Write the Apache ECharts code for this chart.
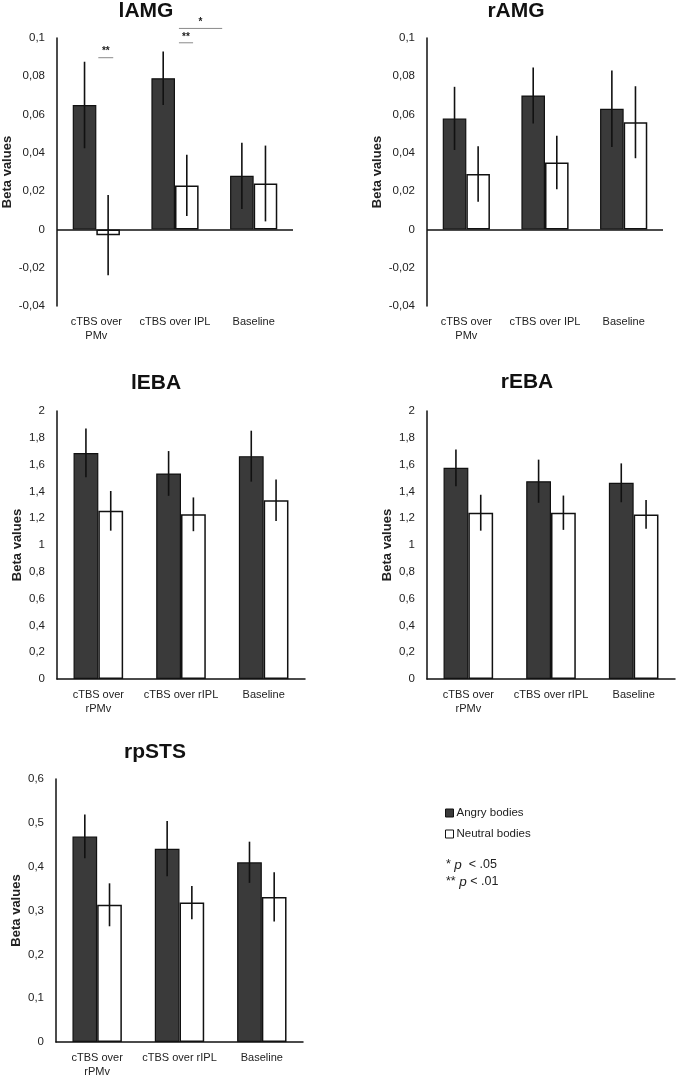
<!DOCTYPE html>
<html>
<head>
<meta charset="utf-8">
<script src="https://cdn.jsdelivr.net/npm/echarts@6/dist/echarts.min.js"></script>
<style>
html,body{margin:0;padding:0;background:#fff;}
#chart{width:677px;height:1079px;}
</style>
</head>
<body>
<div id="chart"></div>
<script>
// ---------- DATA ----------
const categoriesAMG = ['cTBS over\nPMv', 'cTBS over IPL', 'Baseline'];
const categoriesOther = ['cTBS over\nrPMv', 'cTBS over rIPL', 'Baseline'];
const seriesNames = ['Angry bodies', 'Neutral bodies'];
const panelTitles = ['lAMG', 'rAMG', 'lEBA', 'rEBA', 'rpSTS'];

const lAMG_angry = [0.065, 0.079, 0.028];
const lAMG_angry_err = [0.0226, 0.014, 0.0173];
const lAMG_neutral = [-0.003, 0.023, 0.024];
const lAMG_neutral_err = [0.021, 0.016, 0.0198];

const rAMG_angry = [0.058, 0.070, 0.063];
const rAMG_angry_err = [0.0165, 0.0146, 0.020];
const rAMG_neutral = [0.029, 0.035, 0.056];
const rAMG_neutral_err = [0.0145, 0.014, 0.0188];

const lEBA_angry = [1.687, 1.534, 1.663];
const lEBA_angry_err = [0.182, 0.167, 0.19];
const lEBA_neutral = [1.255, 1.229, 1.334];
const lEBA_neutral_err = [0.148, 0.126, 0.155];

const rEBA_angry = [1.576, 1.476, 1.464];
const rEBA_angry_err = [0.137, 0.161, 0.145];
const rEBA_neutral = [1.241, 1.241, 1.228];
const rEBA_neutral_err = [0.134, 0.128, 0.107];

const rpSTS_angry = [0.469, 0.441, 0.41];
const rpSTS_angry_err = [0.05, 0.063, 0.047];
const rpSTS_neutral = [0.313, 0.318, 0.331];
const rpSTS_neutral_err = [0.049, 0.038, 0.056];

// y-axis ranges: [min, max, step]
const yAMG = [-0.04, 0.1, 0.02];
const yEBA = [0, 2, 0.2];
const ySTS = [0, 0.6, 0.1];

// significance brackets in lAMG: [category, yValue, startFrac, endFrac]
const sigBrackets = [[0, 0.0897, 0.025, 0.215], [1, 0.0975, 0.05, 0.23], [1, 0.105, 0.05, 0.6]];
const sigLabels = ['**', '**', '*'];

// ---------- LAYOUT ----------
const panels = [
  {title: panelTitles[0], cats: categoriesAMG, a: lAMG_angry, ae: lAMG_angry_err, n: lAMG_neutral, ne: lAMG_neutral_err, y: yAMG,
   grid: {left: 57, top: 38, width: 236, height: 268}, titlePos: [146, 11], nameGap: 43, zeroLine: true},
  {title: panelTitles[1], cats: categoriesAMG, a: rAMG_angry, ae: rAMG_angry_err, n: rAMG_neutral, ne: rAMG_neutral_err, y: yAMG,
   grid: {left: 427, top: 38, width: 236, height: 268}, titlePos: [516, 11], nameGap: 43, zeroLine: true},
  {title: panelTitles[2], cats: categoriesOther, a: lEBA_angry, ae: lEBA_angry_err, n: lEBA_neutral, ne: lEBA_neutral_err, y: yEBA,
   grid: {left: 57, top: 411, width: 248, height: 268}, titlePos: [156, 383], nameGap: 33, zeroLine: false},
  {title: panelTitles[3], cats: categoriesOther, a: rEBA_angry, ae: rEBA_angry_err, n: rEBA_neutral, ne: rEBA_neutral_err, y: yEBA,
   grid: {left: 427, top: 411, width: 248, height: 268}, titlePos: [527, 382], nameGap: 33, zeroLine: false},
  {title: panelTitles[4], cats: categoriesOther, a: rpSTS_angry, ae: rpSTS_angry_err, n: rpSTS_neutral, ne: rpSTS_neutral_err, y: ySTS,
   grid: {left: 56, top: 779, width: 247, height: 268}, titlePos: [155, 752], nameGap: 33, zeroLine: false}
];

const BAR_FRAC = 0.30;
const tickFont = '"Liberation Sans Narrow", "Arial Narrow", "Liberation Sans", Arial, sans-serif';
const catFont = '"Liberation Sans", Arial, sans-serif';
const boldFont = '"Liberation Sans", Arial, sans-serif';

function errRender(params, api) {
  const cat = api.value(0), lo = api.value(1), hi = api.value(2), side = api.value(3);
  const band = api.size([1, 0])[0];
  const cx = api.coord([cat, 0])[0] + side * BAR_FRAC / 2 * band;
  const p1 = api.coord([cat, lo]);
  const p2 = api.coord([cat, hi]);
  return {type: 'line', shape: {x1: cx, y1: p1[1], x2: cx, y2: p2[1]},
          style: {stroke: '#111', lineWidth: 1.6}};
}

function sigRender(params, api) {
  const cat = api.value(0), yv = api.value(1), f0 = api.value(2), f1 = api.value(3);
  const band = api.size([1, 0])[0];
  const c = api.coord([cat, yv]);
  const x0 = c[0] + f0 * band, x1 = c[0] + f1 * band;
  return {type: 'group', children: [
    {type: 'line', shape: {x1: x0, y1: c[1], x2: x1, y2: c[1]}, style: {stroke: '#8a8a8a', lineWidth: 1}},
    {type: 'text', style: {text: sigLabels[params.dataIndex], x: (x0 + x1) / 2, y: c[1] - 1,
      align: 'center', verticalAlign: 'bottom', fill: '#222', font: 'bold 10px ' + boldFont}}
  ]};
}

const grids = [], xAxes = [], yAxes = [], series = [], graphics = [];
panels.forEach((p, i) => {
  grids.push(Object.assign({containLabel: false}, p.grid));
  xAxes.push({type: 'category', gridIndex: i, data: p.cats,
    axisLine: {show: !p.zeroLine, onZero: false, lineStyle: {color: '#111', width: 1.5}},
    axisTick: {show: false},
    axisLabel: {interval: 0, fontFamily: catFont, fontSize: 11, color: '#222', margin: 9, lineHeight: 14}});
  yAxes.push({type: 'value', gridIndex: i, min: p.y[0], max: p.y[1], interval: p.y[2],
    name: 'Beta values', nameLocation: 'middle', nameRotate: 90, nameGap: p.nameGap,
    nameTextStyle: {fontFamily: boldFont, fontWeight: 'bold', fontSize: 13, color: '#222'},
    axisLine: {show: true, lineStyle: {color: '#111', width: 1.5}},
    axisTick: {show: false}, splitLine: {show: false},
    axisLabel: {fontFamily: tickFont, fontSize: 11.5, color: '#222', margin: 12,
      formatter: v => String(v).replace('.', ',')}});
  const barA = {type: 'bar', name: seriesNames[0], xAxisIndex: i, yAxisIndex: i, data: p.a,
    barWidth: (BAR_FRAC * 100) + '%', barGap: '0%',
    itemStyle: {color: '#3a3a3a', borderColor: '#111', borderWidth: 1.2}, z: 2};
  if (p.zeroLine) {
    barA.markLine = {symbol: 'none', silent: true, label: {show: false},
      lineStyle: {color: '#111', width: 1.5, type: 'solid'}, data: [{yAxis: 0}], z: 5};
  }
  series.push(barA);
  series.push({type: 'bar', name: seriesNames[1], xAxisIndex: i, yAxisIndex: i, data: p.n,
    barWidth: (BAR_FRAC * 100) + '%', barGap: '0%',
    itemStyle: {color: '#ffffff', borderColor: '#111', borderWidth: 1.5}, z: 2});
  const errData = [];
  p.a.forEach((v, k) => errData.push([k, v - p.ae[k], v + p.ae[k], -1]));
  p.n.forEach((v, k) => errData.push([k, v - p.ne[k], v + p.ne[k], 1]));
  series.push({type: 'custom', xAxisIndex: i, yAxisIndex: i, data: errData, renderItem: errRender,
    clip: false, silent: true, z: 4});
  graphics.push({type: 'text', x: p.titlePos[0], y: p.titlePos[1],
    style: {text: p.title, align: 'center', verticalAlign: 'middle', fill: '#111',
      font: 'bold 21px ' + boldFont}});
});

series.push({type: 'custom', xAxisIndex: 0, yAxisIndex: 0, data: sigBrackets, renderItem: sigRender,
  clip: false, silent: true, z: 6});

graphics.push({type: 'text', x: 446, y: 865,
  style: {text: '* {i|p}  < .05', verticalAlign: 'middle', fill: '#222', font: '12.5px ' + boldFont,
    rich: {i: {fontStyle: 'italic', fontSize: 13.5, fontFamily: boldFont}}}});
graphics.push({type: 'text', x: 446, y: 882,
  style: {text: '** {i|p} < .01', verticalAlign: 'middle', fill: '#222', font: '12.5px ' + boldFont,
    rich: {i: {fontStyle: 'italic', fontSize: 13.5, fontFamily: boldFont}}}});

const option = {
  animation: false,
  backgroundColor: '#ffffff',
  grid: grids,
  xAxis: xAxes,
  yAxis: yAxes,
  series: series,
  graphic: graphics,
  legend: {
    orient: 'vertical', left: 440, top: 802, itemWidth: 8, itemHeight: 8, itemGap: 9,
    icon: 'rect',
    data: [
      {name: seriesNames[0], itemStyle: {color: '#3a3a3a', borderColor: '#111', borderWidth: 1}},
      {name: seriesNames[1], itemStyle: {color: '#ffffff', borderColor: '#111', borderWidth: 1}}
    ],
    textStyle: {fontFamily: catFont, fontSize: 11.5, color: '#222', padding: [0, 0, 0, -2]}
  }
};

const chart = echarts.init(document.getElementById('chart'), null, {renderer: 'canvas'});
chart.setOption(option);
</script>
</body>
</html>
